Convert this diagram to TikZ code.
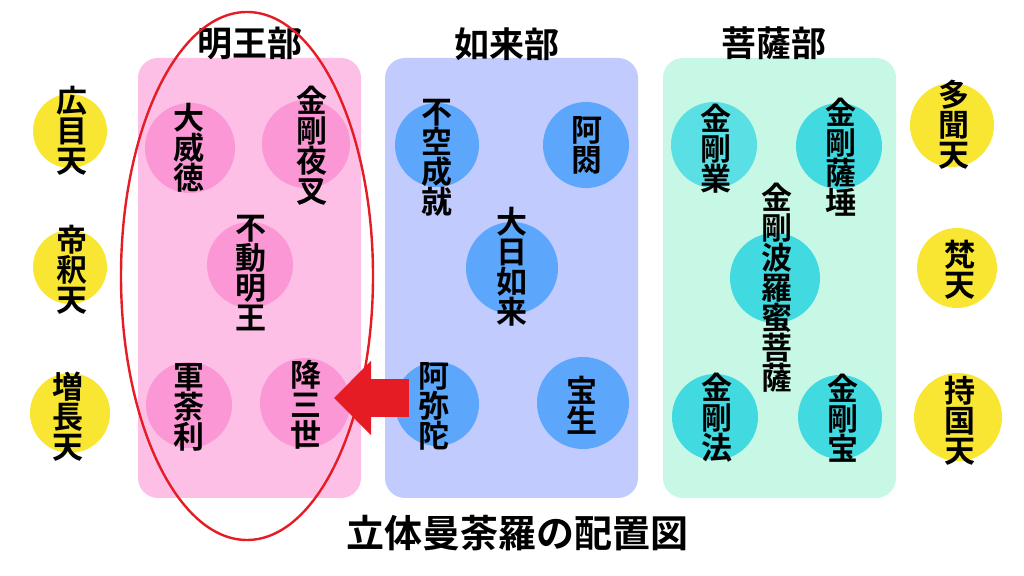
\documentclass[tikz,border=0pt]{standalone}
\usepackage{fontspec}
\newfontfamily\jpfont{Noto Sans CJK JP Bold}
\usepackage{tikz}
\usetikzlibrary{arrows.meta}

\definecolor{myoopanel}{RGB}{253,191,230}
\definecolor{myoodot}{RGB}{251,151,212}
\definecolor{nyopanel}{RGB}{193,203,253}
\definecolor{nyodot}{RGB}{92,166,252}
\definecolor{bosapanel}{RGB}{199,248,230}
\definecolor{bosadot}{RGB}{64,218,224}
\definecolor{bosadotlight}{RGB}{90,223,229}
\definecolor{tendot}{RGB}{248,230,50}
\definecolor{markred}{RGB}{230,28,36}

\begin{document}
\begin{tikzpicture}[x=0.5pt, y=-0.5pt]
    \tikzstyle{panel}=[rounded corners=10pt, inner sep=0pt]
    \tikzstyle{dot}=[circle, inner sep=0pt]
    \tikzstyle{vtext}=[align=center, inner sep=0pt,
            font=\jpfont\fontsize{15.5}{15}\selectfont]
    \tikzstyle{heading}=[inner sep=0pt,
            font=\jpfont\fontsize{17.5}{17.5}\selectfont]

        \useasboundingbox (0,0) rectangle (1024,576);

        % panels
        \node[panel, fill=myoopanel, minimum width=111.5pt,
            minimum height=220pt] (myoo) at (249.5,278) {};
        \node[panel, fill=nyopanel, minimum width=126.5pt,
            minimum height=220pt] (nyorai) at (511.5,278) {};
        \node[panel, fill=bosapanel, minimum width=116.5pt,
            minimum height=220pt] (bosatsu) at (779.5,278) {};

        \node[heading] (myoo-h) at (250,43) {明王部};
        \node[heading] (nyorai-h) at (507,44) {如来部};
        \node[heading] (bosatsu-h) at (774,43) {菩薩部};

        % circles
        \foreach \n/\x/\y/\r/\c in {
            kou/70/131/37/tendot, tai/70/267/37/tendot,
            zou/70/413/40/tendot, tamon/952/125/42/tendot,
            bon/957/268/40/tendot, jikoku/958/417/44/tendot,
            daiitoku/190/148/45/myoodot, yasha/306/144/44/myoodot,
            fudo/250/265/43/myoodot, gundari/189/405/43/myoodot,
            gosanze/305/403/45/myoodot,
            fuku/437/145/42/nyodot, ashuku/586/145/43/nyodot,
            dainichi/512/268/46/nyodot, amida/437/404/42/nyodot,
            hosho/583/403/46/nyodot,
            gou/714/145/43/bosadotlight, satta/839/146/43/bosadot,
            hara/775/278/45/bosadot, hou/715/417/43/bosadot,
            hou2/840/417/42/bosadot}
        {
            \node[dot, fill=\c, minimum size=\r pt] (c-\n) at (\x,\y) {};
        }

        % names
        \foreach \n/\x/\y/\t in {
            kou/72/131/{広\\目\\天}, tai/72/270/{帝\\釈\\天},
            zou/68/417/{増\\長\\天}, tamon/954/125/{多\\聞\\天},
            bon/960/270/{梵\\天}, jikoku/960/421/{持\\国\\天},
            daiitoku/189/148/{大\\威\\徳}, yasha/312/146/{金\\剛\\夜\\叉},
            fudo/251/273/{不\\動\\明\\王}, gundari/189/407/{軍\\荼\\利},
            gosanze/306/405/{降\\三\\世},
            fuku/437/158/{不\\空\\成\\就}, ashuku/587/145/{阿\\閦},
            dainichi/512/267/{大\\日\\如\\来}, amida/434/406/{阿\\弥\\陀},
            hosho/582/405/{宝\\生},
            gou/716/149/{金\\剛\\業}, satta/841/157/{金\\剛\\薩\\埵},
            hara/777/288/{金\\剛\\波\\羅\\蜜\\菩\\薩},
            hou/717/418/{金\\剛\\法}, hou2/843/418/{金\\剛\\宝}}
        {
            \node[vtext] (t-\n) at (\x,\y) {\t};
        }

        \draw[markred, line width=1.2pt] (247,276) ellipse [x radius=126, y radius=264];

        \coordinate (arrowtail) at (409,398);
        \coordinate (arrowtip) at (334,398);
        \draw[markred, line width=19pt,
            -{Triangle[width=36pt, length=18.5pt]}] (arrowtail) -- (arrowtip);

        \node[inner sep=0pt, font=\jpfont\fontsize{19}{19}\selectfont]
        (title) at (517,533) {立体曼荼羅の配置図};

    \end{tikzpicture}
\end{document}
